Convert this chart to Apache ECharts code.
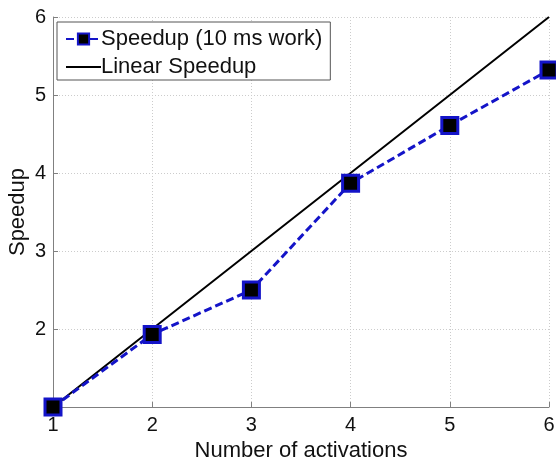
<!DOCTYPE html>
<html>
<head>
<meta charset="utf-8">
<script src="https://cdn.jsdelivr.net/npm/echarts@6/dist/echarts.min.js"></script>
<style>
html,body{margin:0;padding:0;background:#fff;}
#chart{width:556px;height:459px;}
</style>
</head>
<body>
<div id="chart"></div>
<script>
const activations = [1, 2, 3, 4, 5, 6];
const speedup10ms = [1, 1.93, 2.5, 3.87, 4.61, 5.32];
const linearSpeedup = [1, 2, 3, 4, 5, 6];
const yTicks = [1, 2, 3, 4, 5, 6];

const chart = echarts.init(document.getElementById('chart'), null, {renderer: 'canvas'});
const font = 'Liberation Sans, Arial, sans-serif';
chart.setOption({
  animation: false,
  backgroundColor: '#fff',
  grid: {left: 53, right: 7, top: 17, bottom: 52, containLabel: false, outerBoundsMode: 'none'},
  legend: {
    orient: 'vertical',
    left: 57,
    top: 22,
    padding: [6, 8, 2, 8],
    itemWidth: 35,
    itemHeight: 14,
    itemGap: 6,
    borderColor: '#555',
    borderWidth: 1,
    backgroundColor: '#fff',
    textStyle: {fontFamily: font, fontSize: 22, lineHeight: 22, color: '#111', padding: [0, 0, 0, -5]},
    data: [
      {name: 'Speedup (10 ms work)'},
      {name: 'Linear Speedup', itemStyle: {opacity: 0}}
    ]
  },
  xAxis: {
    type: 'value',
    min: 1, max: 6, interval: 1,
    name: 'Number of activations',
    nameLocation: 'middle',
    nameGap: 33,
    nameTextStyle: {fontFamily: font, fontSize: 22, color: '#111'},
    axisLine: {show: true, lineStyle: {color: '#808080', width: 1}},
    axisTick: {show: true, inside: true, length: 5, lineStyle: {color: '#808080'}},
    axisLabel: {fontFamily: font, fontSize: 20, color: '#111', margin: 8},
    splitLine: {show: true, lineStyle: {color: '#cccccc', type: [1, 2], width: 1}}
  },
  yAxis: {
    type: 'value',
    min: 1, max: 6, interval: 1,
    name: 'Speedup',
    nameLocation: 'middle',
    nameGap: 24,
    nameMoveOverlap: false,
    nameTextStyle: {fontFamily: font, fontSize: 22, color: '#111'},
    axisLine: {show: true, lineStyle: {color: '#808080', width: 1}},
    axisTick: {show: true, inside: true, length: 5, lineStyle: {color: '#808080'}},
    axisLabel: {fontFamily: font, fontSize: 20, color: '#111', margin: 7,
      formatter: v => (v === yTicks[0] ? '' : String(v))},
    splitLine: {show: true, lineStyle: {color: '#cccccc', type: [1, 2], width: 1}}
  },
  series: [
    {
      name: 'Speedup (10 ms work)',
      type: 'line',
      data: activations.map((x, i) => [x, speedup10ms[i]]),
      symbol: 'rect',
      symbolSize: 16,
      lineStyle: {color: '#1414c8', width: 3, type: [8, 4]},
      itemStyle: {color: '#000', borderColor: '#1414c8', borderWidth: 3},
      z: 3
    },
    {
      name: 'Linear Speedup',
      type: 'line',
      data: activations.map((x, i) => [x, linearSpeedup[i]]),
      symbol: 'none',
      lineStyle: {color: '#000', width: 2},
      itemStyle: {color: '#000'},
      z: 2
    }
  ]
});
</script>
</body>
</html>
